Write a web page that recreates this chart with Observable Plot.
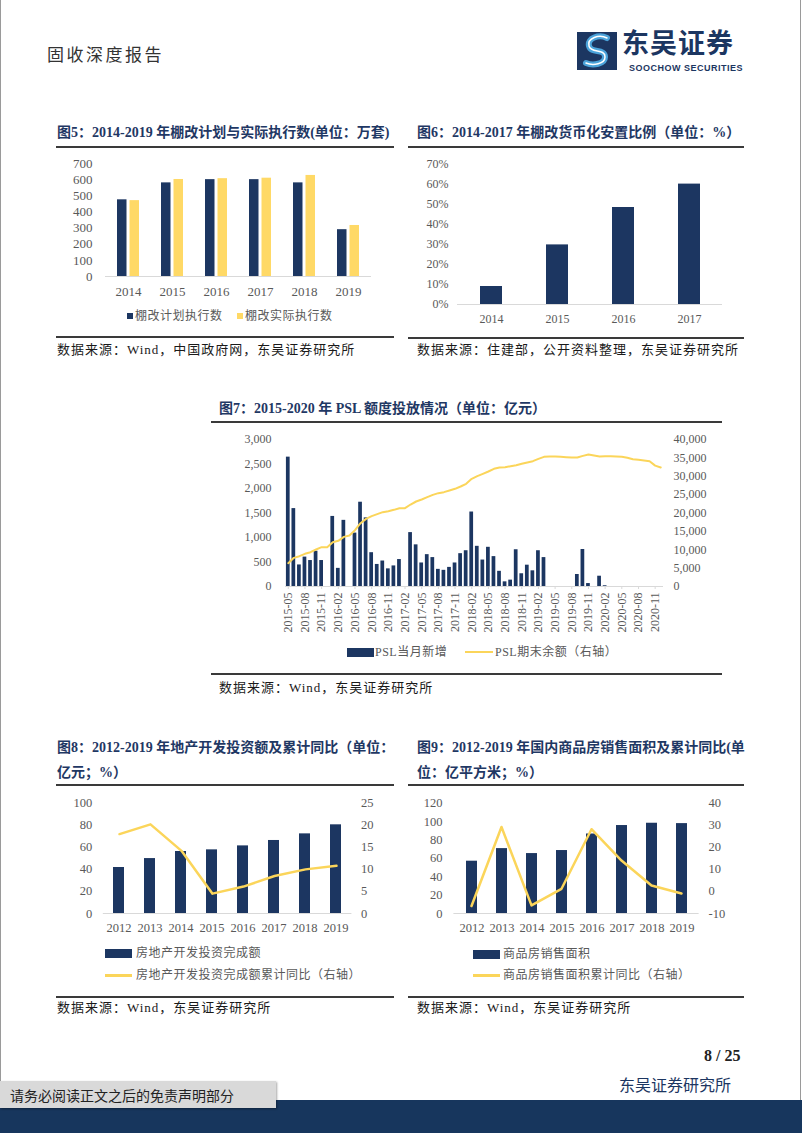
<!DOCTYPE html>
<html><head><meta charset="utf-8">
<script src="https://cdn.jsdelivr.net/npm/d3@7"></script>
<script src="https://cdn.jsdelivr.net/npm/@observablehq/plot@0.6"></script>
<style>
html,body{margin:0;padding:0;background:#fff;}
#page{position:relative;width:802px;height:1133px;overflow:hidden;background:#fff;font-family:"Liberation Serif","Noto Sans CJK SC",serif;}
.t{position:absolute;white-space:nowrap;line-height:16px;}
.title{font-weight:bold;color:#1F3864;font-size:14px;}
.src{font-size:13px;color:#1a1a1a;letter-spacing:1px;}
.lg{font-size:12px;color:#595959;line-height:14px;letter-spacing:0.5px;}
.rule{position:absolute;background:#3a3a3a;}
.box{position:absolute;}
</style></head>
<body><div id="page"></div>
<script>
// ---------------- data ----------------
const years5 = ["2014","2015","2016","2017","2018","2019"];
const plan5 = [475, 580, 600, 600, 580, 290];
const actual5 = [470, 601, 606, 609, 626, 316];
const yTicks5 = [0,100,200,300,400,500,600,700];

const years6 = ["2014","2015","2016","2017"];
const ratio6 = [0.09, 0.298, 0.485, 0.602];
const yTicks6 = [0,0.1,0.2,0.3,0.4,0.5,0.6,0.7];

const months7 = ["2015-05","2015-06","2015-07","2015-08","2015-09","2015-10","2015-11","2015-12",
"2016-01","2016-02","2016-03","2016-04","2016-05","2016-06","2016-07","2016-08","2016-09","2016-10","2016-11","2016-12",
"2017-01","2017-02","2017-03","2017-04","2017-05","2017-06","2017-07","2017-08","2017-09","2017-10","2017-11","2017-12",
"2018-01","2018-02","2018-03","2018-04","2018-05","2018-06","2018-07","2018-08","2018-09","2018-10","2018-11","2018-12",
"2019-01","2019-02","2019-03","2019-04","2019-05","2019-06","2019-07","2019-08","2019-09","2019-10","2019-11","2019-12",
"2020-01","2020-02","2020-03","2020-04","2020-05","2020-06","2020-07","2020-08","2020-09","2020-10","2020-11","2020-12"];
const pslNew7 = [2640,1590,440,600,530,720,530,0,
1430,370,1350,0,1090,1720,1400,690,450,520,360,420,
550,0,1100,850,480,650,590,350,330,390,480,670,
730,1520,820,540,800,610,310,95,130,750,260,435,
320,730,590,0,0,0,0,0,245,755,60,0,
210,15,0,0,0,0,0,0,0,0,0,0];
const pslBal7 = [6350,7800,8250,8890,9340,10070,10700,10700,
12060,12430,13500,13880,15330,17230,18410,19140,19680,20230,20500,20860,
21310,21310,22310,23130,23670,24310,24940,25400,25670,26120,26580,27210,
27940,29300,30020,30660,31290,32020,32380,32470,32740,33010,33380,33740,
34100,34740,35280,35370,35370,35280,35190,35100,35100,35550,35920,35640,
35370,35460,35460,35370,35280,35010,34650,34470,34290,34100,32900,32400];
const xTicks7 = ["2015-05","2015-08","2015-11","2016-02","2016-05","2016-08","2016-11","2017-02","2017-05","2017-08","2017-11",
"2018-02","2018-05","2018-08","2018-11","2019-02","2019-05","2019-08","2019-11","2020-02","2020-05","2020-08","2020-11"];
const yTicksL7 = [0,500,1000,1500,2000,2500,3000];
const yTicksR7 = [0,5000,10000,15000,20000,25000,30000,35000,40000];

const years8 = ["2012","2013","2014","2015","2016","2017","2018","2019"];
const invest8 = [41.7, 49.8, 56.2, 57.7, 61.3, 66.2, 72.2, 80.4];
const investYoy8 = [18.0, 20.2, 14.2, 4.5, 6.1, 8.5, 10.0, 10.8];
const yTicksL8 = [0,20,40,60,80,100];
const yTicksR8 = [0,5,10,15,20,25];

const years9 = ["2012","2013","2014","2015","2016","2017","2018","2019"];
const sales9 = [56.9, 70.6, 65.2, 68.5, 86.5, 95.7, 98.2, 97.8];
const salesYoy9 = [-6.6, 29.2, -6.3, 1.2, 28.2, 14.0, 2.7, -0.9];
const yTicksL9 = [0,20,40,60,80,100,120];
const yTicksR9 = [-10,0,10,20,30,40];

// ---------------- styling ----------------
const NAVY = "#1C3661";
const YEL_BAR = "#FFD966";
const YEL_LINE = "#FBD55A";
const AXIS = "#d9d9d9";
const LABEL = "#595959";
const page = document.getElementById("page");

function txt(s, cls, left, top, extra) {
  const d = document.createElement("div");
  d.className = "t " + cls;
  d.textContent = s;
  d.style.left = left + "px"; d.style.top = top + "px";
  if (extra) Object.assign(d.style, extra);
  page.appendChild(d);
  return d;
}
function rule(x1, x2, y, h) {
  const d = document.createElement("div");
  d.className = "rule";
  Object.assign(d.style, {left: x1 + "px", width: (x2 - x1) + "px", top: y + "px", height: (h || 2) + "px"});
  page.appendChild(d);
}
function box(left, top, w, h, bg, extra) {
  const d = document.createElement("div");
  d.className = "box";
  Object.assign(d.style, {left: left + "px", top: top + "px", width: w + "px", height: h + "px", background: bg});
  if (extra) Object.assign(d.style, extra);
  page.appendChild(d);
  return d;
}
function place(svg, left, top, w, h) {
  const d = document.createElement("div");
  Object.assign(d.style, {position: "absolute", left: left + "px", top: top + "px", width: w + "px", height: h + "px"});
  d.appendChild(svg);
  page.appendChild(d);
}
const pstyle = (fs) => ({background: "transparent", fontFamily: "Liberation Serif, Noto Sans CJK SC, serif", fontSize: fs + "px", color: LABEL, overflow: "visible"});

// ---------------- page frame / header ----------------
box(0, 0, 1, 1133, "#9a9a9a");
box(800, 0, 1, 1133, "#9a9a9a");
txt("固收深度报告", "", 47, 44, {fontFamily: "Noto Sans CJK SC", fontSize: "17px", color: "#333", letterSpacing: "2.5px", lineHeight: "20px"});
// logo
const logo = document.createElement("div");
logo.style = "position:absolute;left:577px;top:32px;width:40px;height:38px";
logo.innerHTML = '<svg width="40" height="38" viewBox="0 0 40 38"><rect x="0" y="0" width="40" height="38" fill="#1C3661"/>' +
  '<path d="M30 6 C22 2 10 6 12 14 C14 22 28 16 28 25 C28 32 16 34 9 31" fill="none" stroke="#4BA3DA" stroke-width="6" stroke-linecap="round"/>' +
  '<path d="M30 6 C22 2 10 6 12 14 C14 22 28 16 28 25 C28 32 16 34 9 31" fill="none" stroke="#ffffff" stroke-width="1.5" stroke-linecap="round"/></svg>';
page.appendChild(logo);
txt("东吴证券", "", 622, 27, {fontFamily: "Noto Sans CJK SC", fontSize: "27px", fontWeight: "bold", color: "#1C3661", lineHeight: "30px", letterSpacing: "1px"});
txt("SOOCHOW SECURITIES", "", 629, 63, {fontFamily: "Liberation Sans", fontSize: "9px", fontWeight: "bold", color: "#1C3661", lineHeight: "10px", letterSpacing: "0.5px"});

// ---------------- chart 5 ----------------
txt("图5：2014-2019 年棚改计划与实际执行数(单位：万套)", "title", 57, 125);
rule(56, 394, 146, 2);
{
  const rows = years5.map((y, i) => ({year: y, plan: plan5[i], actual: actual5[i]}));
  const svg = Plot.plot({
    width: 330, height: 160, marginLeft: 55, marginRight: 9, marginTop: 13, marginBottom: 34,
    style: pstyle(13),
    x: {domain: years5, paddingInner: 0.49, paddingOuter: 0.245, axis: null},
    y: {domain: [0, 700], axis: null},
    marks: [
      Plot.ruleY([0], {stroke: AXIS}),
      Plot.barY(rows, {x: "year", y: "plan", fill: NAVY, insetRight: 12.5}),
      Plot.barY(rows, {x: "year", y: "actual", fill: YEL_BAR, insetLeft: 12.5}),
      Plot.axisX({tickSize: 0, tickPadding: 10, label: null, fill: LABEL}),
      Plot.axisY({ticks: yTicks5, tickSize: 0, tickPadding: 13, label: null, tickFormat: d => String(d), fill: LABEL})
    ]
  });
  place(svg, 50, 150, 330, 160);
}
box(127, 313, 6, 6, NAVY);
txt("棚改计划执行数", "lg", 135, 309);
box(237, 313, 6, 6, YEL_BAR);
txt("棚改实际执行数", "lg", 245, 309);
rule(56, 394, 336, 1.5);
txt("数据来源：Wind，中国政府网，东吴证券研究所", "src", 57, 342);

// ---------------- chart 6 ----------------
txt("图6：2014-2017 年棚改货币化安置比例（单位：%）", "title", 417, 125);
rule(408, 744, 146, 2);
{
  const rows = years6.map((y, i) => ({year: y, v: ratio6[i]}));
  const svg = Plot.plot({
    width: 340, height: 180, marginLeft: 52, marginRight: 23, marginTop: 14, marginBottom: 26,
    style: pstyle(12),
    x: {domain: years6, paddingInner: 0.667, paddingOuter: 0.333, axis: null},
    y: {domain: [0, 0.7], axis: null},
    marks: [
      Plot.ruleY([0], {stroke: AXIS}),
      Plot.barY(rows, {x: "year", y: "v", fill: NAVY}),
      Plot.axisX({tickSize: 0, tickPadding: 10, label: null, fill: LABEL}),
      Plot.axisY({ticks: yTicks6, tickSize: 0, tickPadding: 9, label: null, tickFormat: d3.format(".0%"), fill: LABEL})
    ]
  });
  place(svg, 405, 150, 340, 180);
}
rule(408, 744, 337, 1.5);
txt("数据来源：住建部，公开资料整理，东吴证券研究所", "src", 417, 342);

// ---------------- chart 7 ----------------
txt("图7：2015-2020 年 PSL 额度投放情况（单位：亿元）", "title", 219, 401);
rule(211, 722, 421, 2);
{
  const rows = months7.map((m, i) => ({m, v: pslNew7[i], b: pslBal7[i]}));
  const common = {width: 500, height: 230, marginLeft: 75, marginRight: 47, marginTop: 14, marginBottom: 69, style: pstyle(12)};
  const bars = Plot.plot({
    ...common,
    x: {domain: months7, paddingInner: 0.33, paddingOuter: 0.165, axis: null},
    y: {domain: [0, 3000], axis: null},
    marks: [
      Plot.ruleY([0], {stroke: AXIS}),
      Plot.barY(rows, {x: "m", y: "v", fill: NAVY}),
      Plot.axisX({ticks: xTicks7, tickRotate: -90, tickSize: 3, tickPadding: 3, stroke: AXIS, label: null, fill: LABEL}),
      Plot.axisY({ticks: yTicksL7, tickSize: 0, tickPadding: 14, label: null, tickFormat: d3.format(","), fill: LABEL})
    ]
  });
  const line = Plot.plot({
    ...common,
    x: {type: "point", domain: months7, padding: 0.5, axis: null},
    y: {domain: [0, 40000], axis: null},
    marks: [
      Plot.line(rows, {x: "m", y: "b", stroke: YEL_LINE, strokeWidth: 2}),
      Plot.axisY({anchor: "right", ticks: yTicksR7, tickSize: 0, tickPadding: 10, label: null, tickFormat: d3.format(","), fill: LABEL})
    ]
  });
  place(bars, 210, 425, 500, 230);
  place(line, 210, 425, 500, 230);
}
box(347, 648, 27, 9, NAVY);
txt("PSL当月新增", "lg", 375, 645);
box(465, 651, 28, 2, YEL_LINE);
txt("PSL期末余额（右轴）", "lg", 495, 645);
rule(211, 722, 673, 1.5);
txt("数据来源：Wind，东吴证券研究所", "src", 219, 680);

// ---------------- chart 8 ----------------
txt("图8：2012-2019 年地产开发投资额及累计同比（单位：", "title", 57, 740);
txt("亿元；%）", "title", 57, 765);
rule(56, 394, 784, 2);
{
  const rows = years8.map((y, i) => ({year: y, v: invest8[i], r: investYoy8[i]}));
  const common = {width: 340, height: 150, marginLeft: 52.8, marginRight: 38.6, marginTop: 12.7, marginBottom: 27, style: pstyle(12.5)};
  const bars = Plot.plot({
    ...common,
    x: {domain: years8, paddingInner: 0.645, paddingOuter: 0.3225, axis: null},
    y: {domain: [0, 100], axis: null},
    marks: [
      Plot.ruleY([0], {stroke: AXIS}),
      Plot.barY(rows, {x: "year", y: "v", fill: NAVY}),
      Plot.axisX({tickSize: 0, tickPadding: 10, label: null, fill: LABEL}),
      Plot.axisY({ticks: yTicksL8, tickSize: 0, tickPadding: 11, label: null, tickFormat: d => String(d), fill: LABEL})
    ]
  });
  const line = Plot.plot({
    ...common,
    x: {type: "point", domain: years8, padding: 0.5, axis: null},
    y: {domain: [0, 25], axis: null},
    marks: [
      Plot.line(rows, {x: "year", y: "r", stroke: YEL_LINE, strokeWidth: 2.5}),
      Plot.axisY({anchor: "right", ticks: yTicksR8, tickSize: 0, tickPadding: 9, label: null, tickFormat: d => String(d), fill: LABEL})
    ]
  });
  place(bars, 50, 790, 340, 150);
  place(line, 50, 790, 340, 150);
}
box(105, 949, 27, 9, NAVY);
txt("房地产开发投资完成额", "lg", 136, 946);
box(105, 974, 27, 2.5, YEL_LINE);
txt("房地产开发投资完成额累计同比（右轴）", "lg", 136, 968);
rule(56, 394, 996, 1.5);
txt("数据来源：Wind，东吴证券研究所", "src", 57, 1000);

// ---------------- chart 9 ----------------
txt("图9：2012-2019 年国内商品房销售面积及累计同比(单", "title", 417, 740);
txt("位：亿平方米；%）", "title", 417, 765);
rule(408, 744, 784, 2);
{
  const rows = years9.map((y, i) => ({year: y, v: sales9[i], r: salesYoy9[i]}));
  const common = {width: 340, height: 150, marginLeft: 48.4, marginRight: 46.4, marginTop: 12.7, marginBottom: 27, style: pstyle(12.5)};
  const bars = Plot.plot({
    ...common,
    x: {domain: years9, paddingInner: 0.65, paddingOuter: 0.325, axis: null},
    y: {domain: [0, 120], axis: null},
    marks: [
      Plot.ruleY([0], {stroke: AXIS}),
      Plot.barY(rows, {x: "year", y: "v", fill: NAVY}),
      Plot.axisX({tickSize: 0, tickPadding: 10, label: null, fill: LABEL}),
      Plot.axisY({ticks: yTicksL9, tickSize: 0, tickPadding: 11.4, label: null, tickFormat: d => String(d), fill: LABEL})
    ]
  });
  const line = Plot.plot({
    ...common,
    x: {type: "point", domain: years9, padding: 0.5, axis: null},
    y: {domain: [-10, 40], axis: null},
    marks: [
      Plot.line(rows, {x: "year", y: "r", stroke: YEL_LINE, strokeWidth: 2.5}),
      Plot.axisY({anchor: "right", ticks: yTicksR9, tickSize: 0, tickPadding: 9.4, label: null, tickFormat: d => String(d), fill: LABEL})
    ]
  });
  place(bars, 405, 790, 340, 150);
  place(line, 405, 790, 340, 150);
}
box(473, 950, 27, 9, NAVY);
txt("商品房销售面积", "lg", 503, 947);
box(473, 974, 27, 2.5, YEL_LINE);
txt("商品房销售面积累计同比（右轴）", "lg", 503, 968);
rule(408, 744, 996, 1.5);
txt("数据来源：Wind，东吴证券研究所", "src", 417, 1000);

// ---------------- footer ----------------
txt("8 / 25", "", 704, 1047, {fontSize: "16px", fontWeight: "bold", color: "#222", lineHeight: "18px"});
txt("东吴证券研究所", "", 619, 1074, {fontFamily: "Noto Sans CJK SC", fontSize: "16px", color: "#1C3661", lineHeight: "20px"});
box(0, 1100, 802, 33, "#17365D");
box(0, 1081, 276, 27, "#d9d9d9", {boxShadow: "1px 1px 2px rgba(0,0,0,0.35)"});
txt("请务必阅读正文之后的免责声明部分", "", 10, 1085, {fontFamily: "Noto Sans CJK SC", fontSize: "14px", color: "#222", lineHeight: "20px"});
</script>
</body></html>
